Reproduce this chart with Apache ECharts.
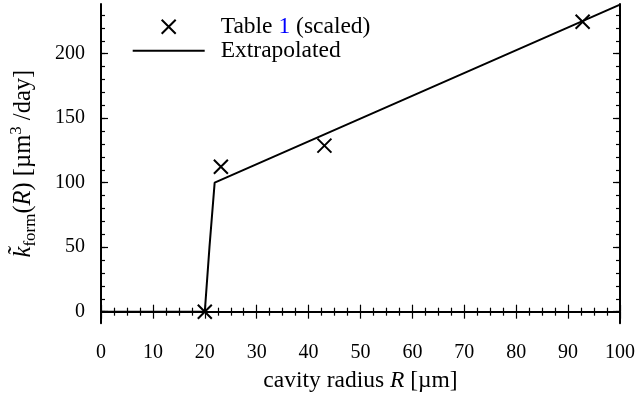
<!DOCTYPE html>
<html>
<head>
<meta charset="utf-8">
<script src="https://cdn.jsdelivr.net/npm/echarts@6/dist/echarts.min.js"></script>
<style>html,body{margin:0;padding:0;background:#fff;}#c{width:638px;height:402px;}</style>
</head>
<body>
<div id="c"></div>
<script>
// Extrapolated curve
const lineR = [0, 20, 20.9, 21.9, 100];
const lineK = [0, 0, 50, 100, 238];
// Table 1 (scaled) points
const tableR = [20, 23.1, 43.05, 92.8];
const tableK = [0, 112.4, 128.7, 224.8];
// tick labels
const xTicks = [0, 10, 20, 30, 40, 50, 60, 70, 80, 90, 100];
const yTicks = [0, 50, 100, 150, 200];
const yMinorTicks = [0, 10, 20, 30, 40, 50, 60, 70, 80, 90, 100, 110, 120, 130, 140, 150, 160, 170, 180, 190, 200, 210, 220, 230];

const FONT = 'Liberation Serif';
const FS = 20;    // tick labels
const FL = 23.5;  // legend / x axis name
const FY = 24.5;  // y axis name
const chart = echarts.init(document.getElementById('c'), null, {renderer: 'canvas'});

const yMin = -9, yMax = 238.5;
function yAxis(pos, major, showLine, showLabel, name) {
  const a = {
    type: 'value', position: pos, min: yMin, max: yMax,
    splitLine: {show: false},
    axisLine: {show: showLine, lineStyle: {color: '#000', width: 2}},
    axisTick: {show: true, inside: true, length: major ? 7 : 4, customValues: major ? yTicks : yMinorTicks, lineStyle: {color: '#000', width: 1.2}},
    axisLabel: {show: showLabel, customValues: yTicks, margin: 16, color: '#000', fontFamily: FONT, fontSize: FS}
  };
  if (name) {
    a.name = '{k|k\u0303}{sub|form}{n|(}{i|R}{n|) [\u00b5m}{sup|3}{n| /day]}';
    a.nameLocation = 'middle';
    a.nameRotate = 90;
    a.nameGap = 62;
    a.nameTextStyle = {
      color: '#000', fontFamily: FONT, fontSize: FY,
      rich: {
        k: {fontFamily: FONT, fontSize: FY, fontStyle: 'italic', color: '#000', lineHeight: 31, verticalAlign: 'middle'},
        i: {fontFamily: FONT, fontSize: FY, fontStyle: 'italic', color: '#000', lineHeight: 31, verticalAlign: 'middle'},
        n: {fontFamily: FONT, fontSize: FY, color: '#000', lineHeight: 31, verticalAlign: 'middle'},
        sub: {fontFamily: FONT, fontSize: 17, color: '#000', lineHeight: 16, verticalAlign: 'bottom'},
        sup: {fontFamily: FONT, fontSize: 17, color: '#000', lineHeight: 16, verticalAlign: 'top'}
      }
    };
  }
  return a;
}
function xAxis(pos, showLabel, name) {
  const a = {
    type: 'value', position: pos, min: 0, max: 100, interval: 10,
    splitLine: {show: false},
    axisLine: {show: true, lineStyle: {color: '#000', width: 2}},
    axisTick: {show: true, inside: true, length: 7, lineStyle: {color: '#000', width: 1.2}},
    minorTick: {show: true, splitNumber: 4, length: 4, lineStyle: {color: '#000', width: 1.2}},
    axisLabel: {show: showLabel, margin: 19, color: '#000', fontFamily: FONT, fontSize: FS,
      formatter: v => (xTicks.indexOf(v) >= 0 ? String(v) : '')}
  };
  if (name) {
    a.name = 'cavity radius {i|R} [\u00b5m]';
    a.nameLocation = 'middle';
    a.nameGap = 46;
    a.nameTextStyle = {color: '#000', fontFamily: FONT, fontSize: FL,
      rich: {i: {fontFamily: FONT, fontSize: FL, fontStyle: 'italic', color: '#000'}}};
  }
  return a;
}

const crossPath = 'path://M0,0L10,10M10,0L0,10';

chart.setOption({
  animation: false,
  backgroundColor: '#fff',
  grid: {left: 99, right: 17.5, top: 4, bottom: 78.7, containLabel: false},
  xAxis: [xAxis('bottom', true, true), xAxis('top', false, false)],
  yAxis: [yAxis('left', true, true, true, true), yAxis('left', false, false, false, false),
          yAxis('right', true, true, false, false), yAxis('right', false, false, false, false)],
  legend: {
    orient: 'vertical', left: 126.7, top: 9.7, itemWidth: 72, itemHeight: 14, itemGap: 0,
    padding: 5,
    data: [
      {name: 'Table 1 (scaled)'},
      {name: 'Extrapolated', itemStyle: {opacity: 0}}
    ],
    formatter: function (name) {
      if (name === 'Table 1 (scaled)') return '{s| }{t|Table }{b|1}{t| (scaled)}';
      return '{s| }{t|Extrapolated}';
    },
    textStyle: {
      fontFamily: FONT, fontSize: FL, color: '#000',
      rich: {
        s: {width: 11, fontSize: FL, lineHeight: 24},
        t: {fontFamily: FONT, fontSize: FL, color: '#000', lineHeight: 24},
        b: {fontFamily: FONT, fontSize: FL, color: '#0000FF', lineHeight: 24}
      }
    }
  },
  series: [
    {
      name: 'Extrapolated', type: 'line', xAxisIndex: 0, yAxisIndex: 0,
      data: lineR.map((r, i) => [r, lineK[i]]),
      symbol: 'circle', showSymbol: false,
      lineStyle: {color: '#000', width: 2},
      itemStyle: {color: '#000', opacity: 0},
      z: 2
    },
    {
      name: 'Table 1 (scaled)', type: 'scatter', xAxisIndex: 0, yAxisIndex: 0,
      data: tableR.map((r, i) => [r, tableK[i]]),
      symbol: crossPath, symbolSize: 14,
      itemStyle: {color: 'none', borderColor: '#000', borderWidth: 2, opacity: 1},
      z: 3
    }
  ]
});
</script>
</body>
</html>
